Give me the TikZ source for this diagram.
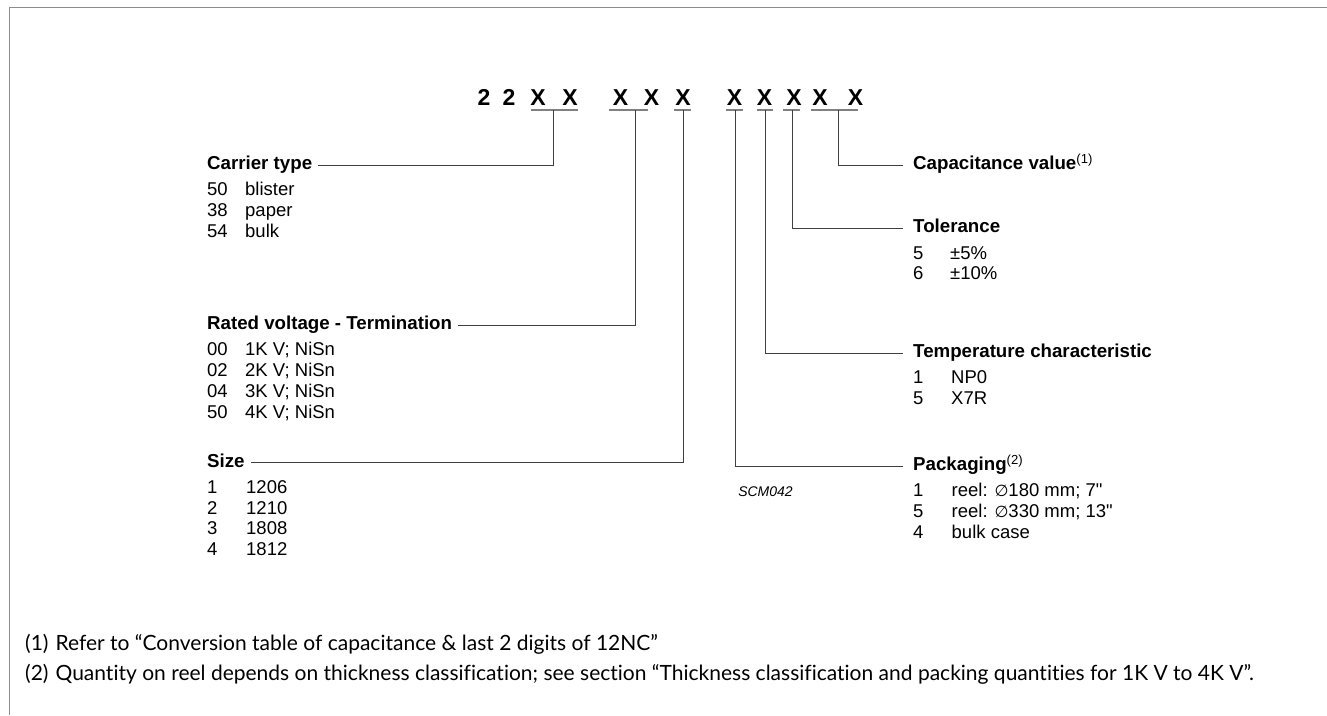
\documentclass[tikz,border=0pt]{standalone}
\usepackage{fontspec}
\setmainfont{Liberation Sans}[Ligatures=TeXOff]
\newfontfamily\footfont{Lato}[Ligatures={NoCommon,TeX}]
\newfontfamily\symfont{DejaVu Sans}
\begin{document}
\begin{tikzpicture}[x=1pt,y=-1pt,
  codechar/.style={font=\fontsize{23}{23}\selectfont\bfseries, inner sep=0pt, anchor=base},
  head/.style={font=\fontsize{18.7}{20}\selectfont\bfseries, inner sep=0pt, anchor=west, text height=13pt, text depth=4pt},
  items/.style={font=\fontsize{18.5}{20.7}\selectfont, inner sep=0pt, anchor=north west, align=left},
  lead/.style={draw=black!75, line width=0.9pt},
  uline/.style={draw=black!50, line width=1.2pt},
  frame/.style={draw=black!45, line width=0.8pt},
  foot/.style={font=\footfont\fontsize{21}{21}\selectfont, inner sep=0pt, anchor=base west}]
\useasboundingbox (0,0) rectangle (1327,715);
% frame
\draw[frame] (9,715) -- (9,7.5) -- (1327,7.5);
% code
\node[codechar] (c1)  at (484,105) {2};
\node[codechar] (c2)  at (509,105) {2};
\node[codechar] (c3)  at (538,105) {X};
\node[codechar] (c4)  at (570,105) {X};
\node[codechar] (c5)  at (620.5,105) {X};
\node[codechar] (c6)  at (651.5,105) {X};
\node[codechar] (c7)  at (683,105) {X};
\node[codechar] (c8)  at (734.5,105) {X};
\node[codechar] (c9)  at (764.5,105) {X};
\node[codechar] (c10) at (794,105) {X};
\node[codechar] (c11) at (820,105) {X};
\node[codechar] (c12) at (855.5,105) {X};
% underlines
\draw[uline] (530.7,110) -- (578.3,110);
\draw[uline] (609,110) -- (648,110);
\draw[uline] (674,110) -- (690.7,110);
\draw[uline] (726,110) -- (742.7,110);
\draw[uline] (756.7,110) -- (773.3,110);
\draw[uline] (783.3,110) -- (800,110);
\draw[uline] (810.7,110) -- (858.3,110);
\coordinate (t1) at (553.3,110);
\coordinate (t2) at (635,110);
\coordinate (t3) at (683.3,110);
\coordinate (t4) at (735,110);
\coordinate (t5) at (765,110);
\coordinate (t6) at (792.7,110);
\coordinate (t7) at (838.5,110);
% left labels
\node[head] (carrier) at (207,165) {Carrier type};
\node[items] (carrierl) at (207,181.3) {\begin{tabular}{@{}p{38pt}@{}l@{}}50 & blister\\ 38 & paper\\ 54 & bulk\end{tabular}};
\node[head] (rated) at (207,325) {Rated voltage - Termination};
\node[items] (ratedl) at (207,341.3) {\begin{tabular}{@{}p{38pt}@{}l@{}}00 & 1K V; NiSn\\ 02 & 2K V; NiSn\\ 04 & 3K V; NiSn\\ 50 & 4K V; NiSn\end{tabular}};
\node[head] (size) at (207,462.5) {Size};
\node[items] (sizel) at (207,478.8) {\begin{tabular}{@{}p{39pt}@{}l@{}}1 & 1206\\ 2 & 1210\\ 3 & 1808\\ 4 & 1812\end{tabular}};
% right labels
\node[head] (capv) at (913,165) {Capacitance value\textsuperscript{\normalfont(1)}};
\node[head] (tol) at (913,228.3) {Tolerance};
\node[items] (toll) at (913,244.6) {\begin{tabular}{@{}p{37pt}@{}l@{}}5 & ±5\%\\ 6 & ±10\%\end{tabular}};
\node[head] (temp) at (913,353) {Temperature characteristic};
\node[items] (templ) at (913,369.3) {\begin{tabular}{@{}p{38pt}@{}l@{}}1 & NP0\\ 5 & X7R\end{tabular}};
\node[head] (pack) at (913,466) {Packaging\textsuperscript{\normalfont(2)}};
\node[items] (packl) at (913,482.3) {\begin{tabular}{@{}p{38.5pt}@{}l@{}}1 & reel: {\symfont\fontsize{16}{16}\selectfont ∅}180 mm; 7"\\ 5 & reel: {\symfont\fontsize{16}{16}\selectfont ∅}330 mm; 13"\\ 4 & bulk case\end{tabular}};
\node[font=\fontsize{14}{14}\selectfont\itshape, inner sep=0pt] (scm) at (765.5,492) {SCM042};
% leaders
\draw[lead] (t1) |- ([xshift=6pt]carrier.east);
\draw[lead] (t2) |- ([xshift=6pt]rated.east);
\draw[lead] (t3) |- ([xshift=6pt]size.east);
\draw[lead] (t4) |- ([xshift=-10pt]pack.west);
\draw[lead] (t5) |- ([xshift=-10pt]temp.west);
\draw[lead] (t6) |- ([xshift=-10pt]tol.west);
\draw[lead] (t7) |- ([xshift=-10pt]capv.west);
% footnotes
\node[foot] (f1) at (25,650) {(1)\hspace{7pt}Refer to “Conversion table of capacitance \& last 2 digits of 12NC”};
\node[foot] (f2) at (25,680) {(2)\hspace{7pt}Quantity on reel depends on thickness classification; see section “Thickness classification and packing quantities for 1K V to 4K V”.};
\end{tikzpicture}
\end{document}
